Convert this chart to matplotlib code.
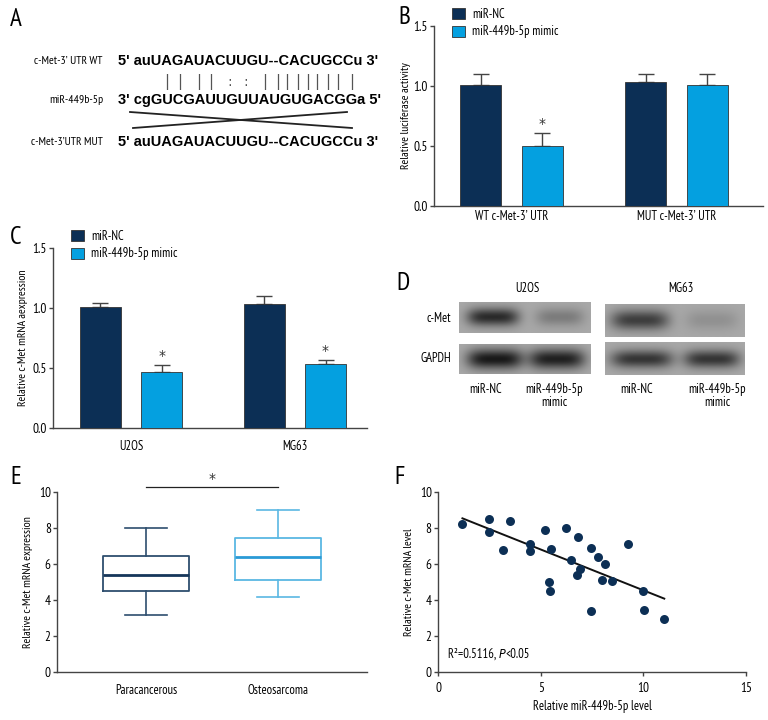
import numpy as np
import matplotlib
matplotlib.use('Agg')
import matplotlib.pyplot as plt

plt.rcParams['font.family'] = ['PT Sans Narrow', 'DejaVu Sans']

W, H = 768, 720
NAVY = '#0c2f55'
BLUE = '#04a0e0'
SPINE = '#444444'

# ---------------- data ----------------
# Panel A
seq_labels = ["c-Met-3\u2019 UTR WT", "miR-449b-5p", "c-Met-3\u2019UTR MUT"]
seq_texts = ["5' auUAGAUACUUGU--CACUGCCu 3'",
             "3' cgGUCGAUUGUUAUGUGACGGa 5'",
             "5' auUAGAUACUUGU--CACUGCCu 3'"]
pair_symbols = ['|', '|', '|', '|', ':', ':', '|', '|', '|', '|', '|', '|', '|', '|', '|']

# Panel B
b_groups = ["WT c-Met-3\u2019 UTR", "MUT c-Met-3\u2019 UTR"]
b_nc = [1.01, 1.03]
b_nc_err = [0.09, 0.07]
b_mimic = [0.50, 1.01]
b_mimic_err = [0.11, 0.09]
b_sig = [True, False]

# Panel C
c_groups = ["U2OS", "MG63"]
c_nc = [1.01, 1.03]
c_nc_err = [0.03, 0.07]
c_mimic = [0.465, 0.533]
c_mimic_err = [0.063, 0.036]
c_sig = [True, True]

# Panel D (band intensities, 0..1)
d_cells = ["U2OS", "MG63"]
d_proteins = ["c-Met", "GAPDH"]
d_lanes = ["miR-NC", "miR-449b-5p\nmimic"]
d_cmet_u2os = [0.85, 0.30]
d_gapdh_u2os = [0.97, 0.92]
d_cmet_mg63 = [0.72, 0.16]
d_gapdh_mg63 = [0.78, 0.78]

# Panel E
e_groups = ["Paracancerous", "Osteosarcoma"]
e_low = [3.19, 4.17]
e_q1 = [4.52, 5.13]
e_med = [5.37, 6.39]
e_q3 = [6.44, 7.44]
e_high = [7.98, 9.02]

# Panel F
f_x = [1.19, 2.50, 2.48, 3.17, 3.49, 4.48, 4.46, 5.23, 5.50, 5.42, 5.44, 6.22, 6.48,
       6.80, 6.90, 6.77, 7.45, 7.78, 8.12, 7.99, 8.49, 7.45, 9.24, 9.98, 10.02, 11.02]
f_y = [8.20, 8.50, 7.80, 6.80, 8.41, 7.13, 6.70, 7.91, 6.85, 5.00, 4.48, 8.02, 6.24,
       7.50, 5.70, 5.41, 6.91, 6.39, 6.00, 5.09, 5.07, 3.39, 7.13, 4.50, 3.46, 2.96]
f_r2 = "0.5116"

# ---------------- figure ----------------
fig = plt.figure(figsize=(W / 100, H / 100), dpi=100)


def rect(x0, y0, x1, y1):
    return [x0 / W, 1 - y1 / H, (x1 - x0) / W, (y1 - y0) / H]


# overlay axes in pixel coordinates for panel A, D and letters
ov = fig.add_axes([0, 0, 1, 1])
ov.set_xlim(0, W)
ov.set_ylim(H, 0)
ov.axis('off')
ov.patch.set_visible(False)

for letter, (lx, ly) in zip("ABCDEF", [(10, 20), (398, 18), (10, 237), (396, 283), (10, 477), (394, 477)]):
    ov.text(lx, ly, letter, fontsize=18, ha='left', va='center')

# ---- Panel A ----
row_y = [61, 100, 142]
for lab, seq, yy in zip(seq_labels, seq_texts, row_y):
    ov.text(103, yy, lab, fontsize=8.5, ha='right', va='center')
    ov.text(118, yy, seq, fontsize=10.5, ha='left', va='center',
            family='Liberation Sans', fontweight='bold')
pair_x = [167, 180, 199, 211, 230, 246, 265, 278, 287, 298, 308, 317, 328, 338, 352]
for sx, sym in zip(pair_x, pair_symbols):
    ov.text(sx, 82, sym, fontsize=11 if sym == '|' else 10, ha='center', va='center',
            family='DejaVu Sans', color='#555555')
ov.plot([130, 352], [112, 128], color='#222222', lw=1.3)
ov.plot([133, 347], [128, 112], color='#222222', lw=1.3)


# ---- Panel D (western blot) ----
def strip(x0, x1, y0, y1, centers, halfw, intens, yc, hh):
    X = np.linspace(x0, x1, 260)
    Y = np.linspace(y0, y1, 60)
    img = np.full((Y.size, X.size), 0.66)
    for c, hw, I in zip(centers, halfw, intens):
        px = np.exp(-np.abs((X - c) / hw) ** 4)
        py = np.exp(-((Y - yc) / hh) ** 2)
        img -= 0.58 * I * np.outer(py, px)
    ov.imshow(img, extent=(x0, x1, y1, y0), cmap='gray', vmin=0, vmax=1,
              aspect='auto', interpolation='bilinear', zorder=1)


strip(459, 591, 302, 333, [493, 560], [26, 24], d_cmet_u2os, 317, 9)
strip(459, 591, 344, 374, [495, 557], [28, 28], d_gapdh_u2os, 359, 10)
strip(605, 745, 304, 337, [640, 712], [29, 26], d_cmet_mg63, 320, 10)
strip(605, 745, 342, 375, [642, 712], [31, 28], d_gapdh_mg63, 359, 9)
ov.set_xlim(0, W)
ov.set_ylim(H, 0)

for cell, cx in zip(d_cells, [527, 681]):
    ov.text(cx, 289, cell, fontsize=9, ha='center', va='center')
for prot, py in zip(d_proteins, [318, 359]):
    ov.text(451, py, prot, fontsize=9, ha='right', va='center')
for lx in [(486, 554), (637, 717)]:
    for lab, x in zip(d_lanes, lx):
        ov.text(x, 383, lab, fontsize=9, ha='center', va='top', linespacing=1.0)


# ---- bar panels ----
def style_axis(ax):
    for s in ['top', 'right']:
        ax.spines[s].set_visible(False)
    for s in ['left', 'bottom']:
        ax.spines[s].set_color(SPINE)
        ax.spines[s].set_linewidth(1.0)
    ax.tick_params(axis='y', direction='out', length=3, width=1, color=SPINE,
                   labelsize=9.5, pad=1.5)


def star(ax, x, y):
    ax.text(x, y, '*', ha='center', va='bottom', fontsize=10,
            family='DejaVu Sans', color='#333333', clip_on=False)


def bar_panel(ax, groups, nc, nc_err, mim, mim_err, sig, ylabel, xpad, legend_xy):
    x = np.arange(len(groups))
    off, w = 0.187, 0.248
    ax.bar(x - off, nc, w, color=NAVY, edgecolor='#333333', lw=0.6, label='miR-NC', zorder=3)
    ax.bar(x + off, mim, w, color=BLUE, edgecolor='#333333', lw=0.6,
           label='miR-449b-5p mimic', zorder=3)
    z = np.zeros(len(groups))
    ax.errorbar(x - off, nc, yerr=[z, nc_err], fmt='none', ecolor='#444444',
                elinewidth=1, capsize=6, capthick=1, zorder=2)
    ax.errorbar(x + off, mim, yerr=[z, mim_err], fmt='none', ecolor='#444444',
                elinewidth=1, capsize=6, capthick=1, zorder=2)
    for i, s in enumerate(sig):
        if s:
            star(ax, x[i] + off, mim[i] + mim_err[i] + 0.015)
    ax.set_ylim(0, 1.5)
    ax.set_yticks([0, 0.5, 1.0, 1.5])
    ax.set_yticklabels(['0.0', '0.5', '1.0', '1.5'])
    ax.set_xticks(x)
    ax.set_xticklabels(groups, fontsize=9)
    ax.tick_params(axis='x', length=0, pad=xpad)
    style_axis(ax)
    ax.set_ylabel(ylabel, fontsize=8.5, va='center')
    ax.legend(loc='upper left', bbox_to_anchor=(legend_xy[0] / W, 1 - legend_xy[1] / H),
              bbox_transform=fig.transFigure, frameon=False, fontsize=9,
              handlelength=1.0, handleheight=1.0, handletextpad=0.6,
              labelspacing=0.35, borderpad=0, borderaxespad=0)


axB = fig.add_axes(rect(434, 26, 763, 206))
bar_panel(axB, b_groups, b_nc, b_nc_err, b_mimic, b_mimic_err, b_sig,
          'Relative luciferase activity', 3, (452, 8))
axB.set_xlim(-0.47, 1.524)
axB.yaxis.set_label_coords(-28 / 329, 0.5)

axC = fig.add_axes(rect(53, 248, 367, 428))
bar_panel(axC, c_groups, c_nc, c_nc_err, c_mimic, c_mimic_err, c_sig,
          'Relative c-Met mRNA aexpression', 8.5, (71, 230))
axC.set_xlim(-0.476, 1.44)
axC.yaxis.set_label_coords(-30 / 314, 0.5)

# ---- Panel E ----
axE = fig.add_axes(rect(57, 492, 367, 672))
stats = [dict(label=g, whislo=lo, q1=a, med=m, q3=b, whishi=hi, fliers=[])
         for g, lo, a, m, b, hi in zip(e_groups, e_low, e_q1, e_med, e_q3, e_high)]
bp = axE.bxp(stats, positions=[0, 1], widths=0.65, capwidths=0.32, showfliers=False,
             patch_artist=False)
edge_cols = ['#2e4e6e', '#5bb8e3']
med_cols = ['#15365a', '#2a9ad6']
for i in range(2):
    bp['boxes'][i].set(color=edge_cols[i], lw=1.3)
    bp['medians'][i].set(color=med_cols[i], lw=2.0)
    for j in (2 * i, 2 * i + 1):
        bp['whiskers'][j].set(color=edge_cols[i], lw=1.2)
        bp['caps'][j].set(color=edge_cols[i], lw=1.2)
axE.set_xlim(-0.674, 1.674)
axE.set_ylim(0, 10)
axE.set_yticks(np.arange(0, 11, 2))
axE.tick_params(axis='x', length=0, pad=8.5, labelsize=9)
style_axis(axE)
axE.set_ylabel('Relative c-Met mRNA expression', fontsize=8.5, va='center')
axE.yaxis.set_label_coords(-29 / 310, 0.5)
axE.plot([0, 1], [10.28, 10.28], color='#222222', lw=0.9, clip_on=False)
star(axE, 0.5, 10.35)

# ---- Panel F ----
axF = fig.add_axes(rect(438, 492, 746, 672))
fx = np.array(f_x)
fy = np.array(f_y)
axF.scatter(fx, fy, s=42, color=NAVY, zorder=3, linewidths=0)
k, b0 = np.polyfit(fx, fy, 1)
xl = np.array([fx.min(), fx.max()])
axF.plot(xl, k * xl + b0, color='#111111', lw=1.4, zorder=2)
axF.set_xlim(0, 15)
axF.set_ylim(0, 10)
axF.set_xticks([0, 5, 10, 15])
axF.set_yticks(np.arange(0, 11, 2))
style_axis(axF)
axF.tick_params(axis='x', direction='out', length=3, width=1, color=SPINE,
                labelsize=9.5, pad=4)
axF.set_ylabel('Relative c-Met mRNA level', fontsize=8.5, va='center')
axF.yaxis.set_label_coords(-29 / 308, 0.5)
axF.set_xlabel('Relative miR-449b-5p level', fontsize=9)
t1 = axF.text(0.5, 1.0, 'R\u00b2=' + f_r2 + ', ', fontsize=9, ha='left', va='center')
t2 = axF.annotate('P', xy=(1, 0), xycoords=t1, fontsize=9, style='italic',
                  family=['Roboto Condensed', 'DejaVu Sans'], ha='left', va='bottom')
axF.annotate('<0.05', xy=(1, 0), xycoords=t2, fontsize=9, ha='left', va='bottom')

fig.savefig('out.png', dpi=100)
